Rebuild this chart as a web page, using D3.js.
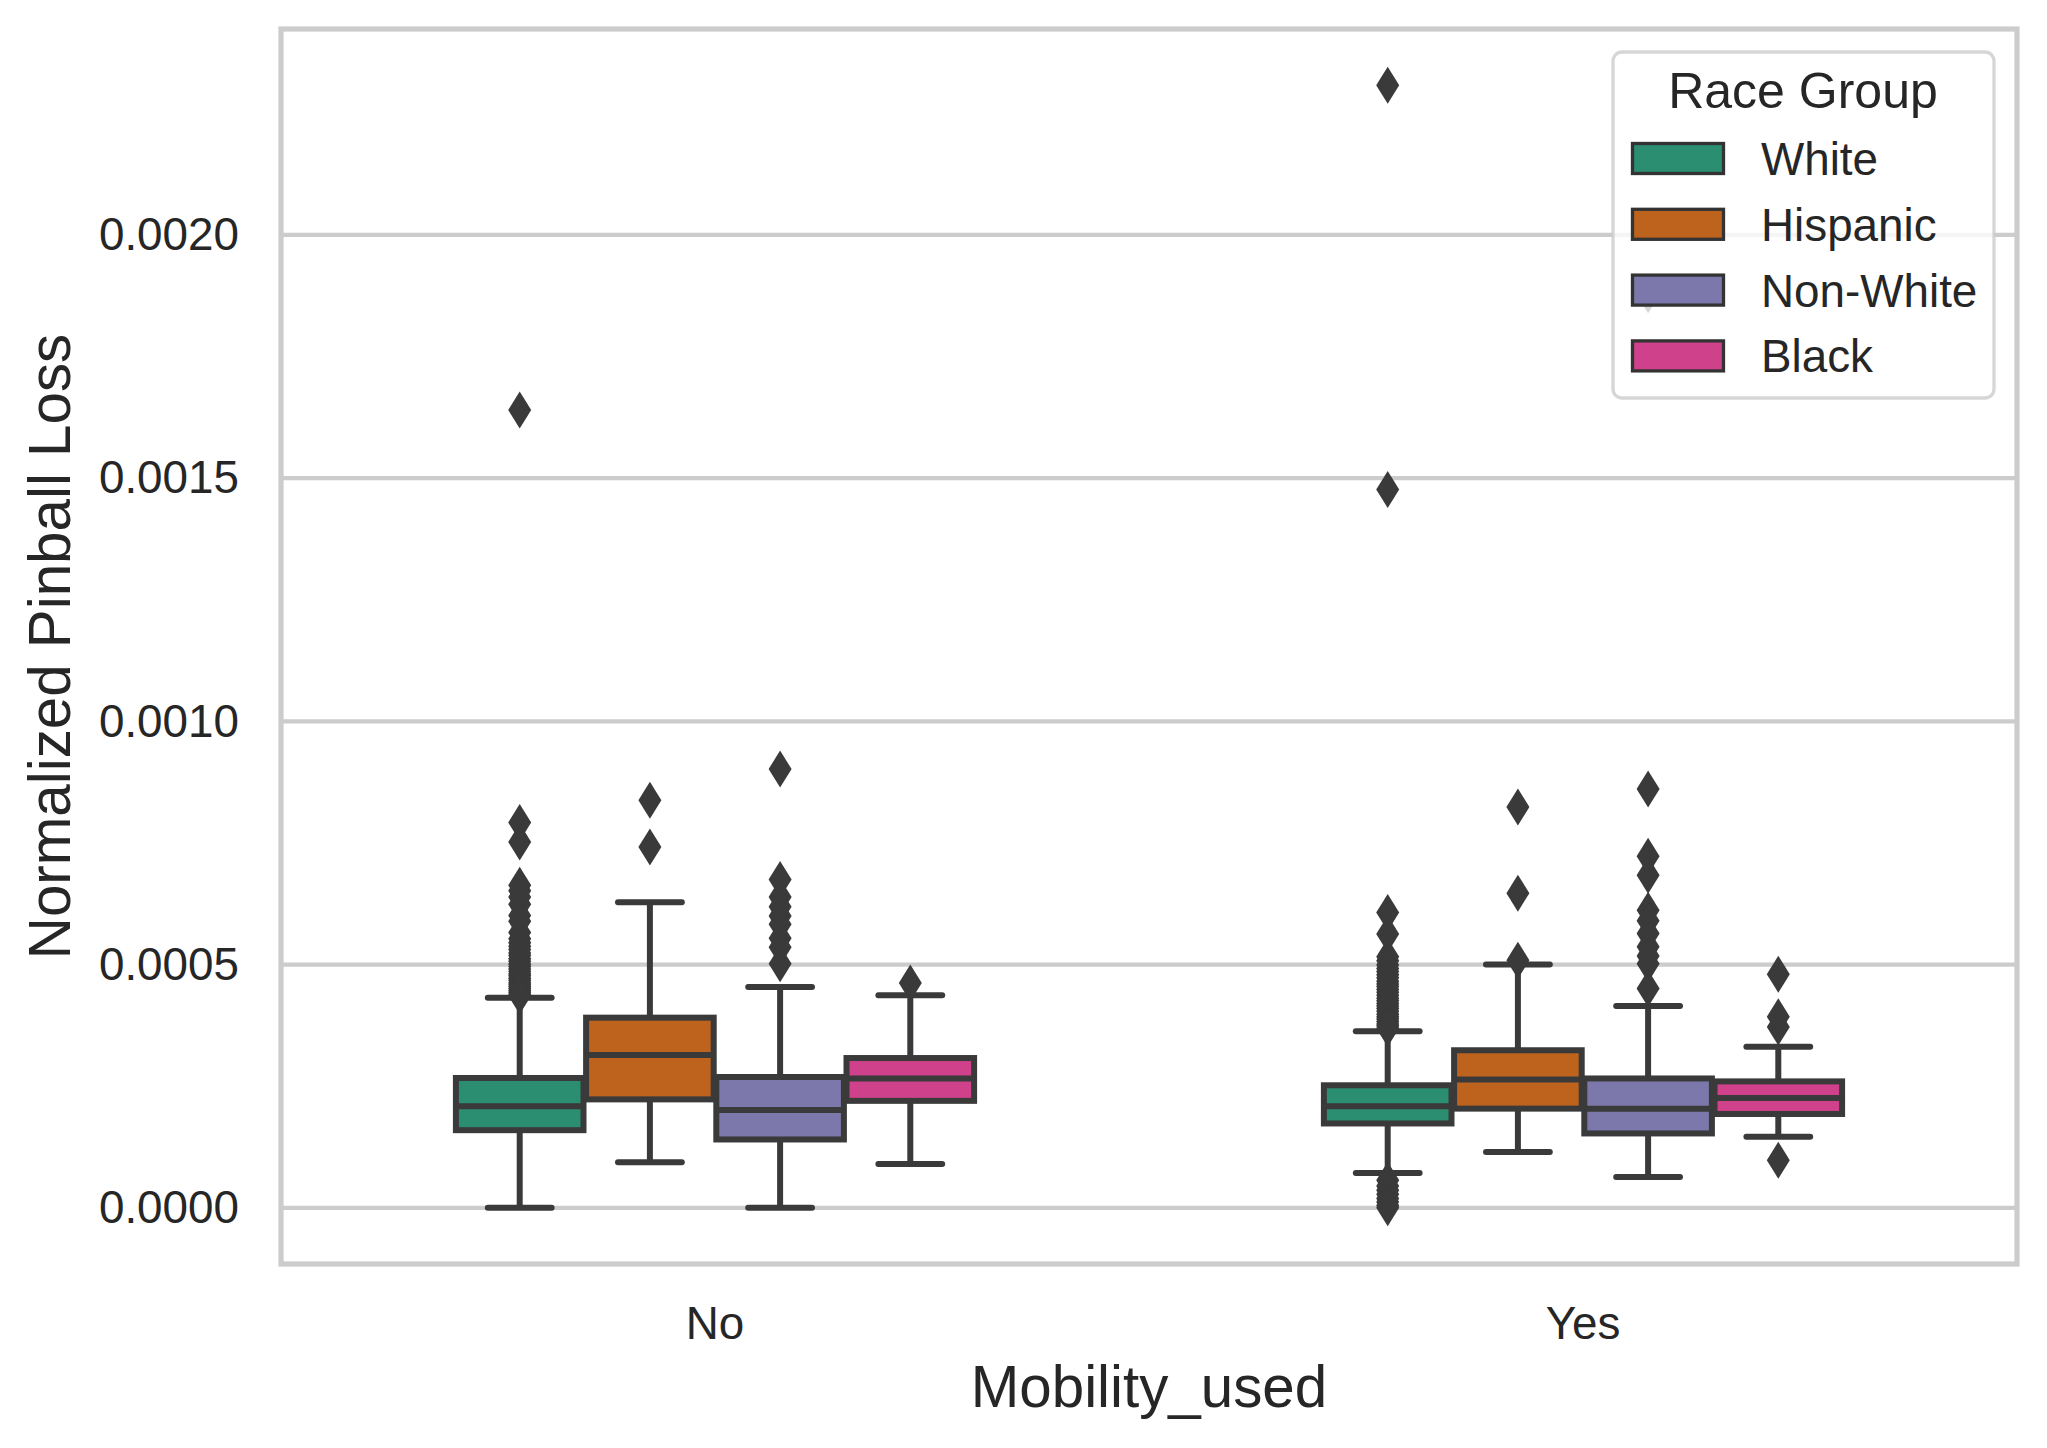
<!DOCTYPE html>
<html>
<head>
<meta charset="utf-8">
<script src="https://cdn.jsdelivr.net/npm/d3@7"></script>
<style>
  html, body { margin: 0; padding: 0; background: #fff; }
  text { font-family: "Liberation Sans", Arial, sans-serif; fill: #262626; }
</style>
</head>
<body>
<svg id="chart" width="2047" height="1448"></svg>
<script>
// categories
const groups = ["No", "Yes"];
const races = ["White", "Hispanic", "Non-White", "Black"];
const yTicks = [0, 0.0005, 0.001, 0.0015, 0.002];

// box stats, one row per group, race order as above
const whiskerLow  = [[0.0,       0.0000939, 0.0,       0.0000904], [0.0000719, 0.000115,  0.0000637, 0.000146]];
const q1          = [[0.0001597, 0.000223,  0.0001406, 0.000220 ], [0.0001735, 0.000204,  0.000153,  0.000193]];
const median      = [[0.000209,  0.000314,  0.000201,  0.000266 ], [0.000209,  0.000264,  0.000204,  0.000226]];
const q3          = [[0.000267,  0.000391,  0.000269,  0.000308 ], [0.000252,  0.000324,  0.000266,  0.000260]];
const whiskerHigh = [[0.000432,  0.000628,  0.000454,  0.000437 ], [0.000363,  0.0005003, 0.000415,  0.000331]];

// fliers
const outliersNo = [
  [0.00164, 0.000792, 0.000752, 0.000663, 0.000652, 0.000639, 0.000624, 0.000601, 0.000589, 0.000566,
   0.000553, 0.000545, 0.000538, 0.000531, 0.000524, 0.000519, 0.000512, 0.000507, 0.000501, 0.000496,
   0.000491, 0.000486, 0.000481, 0.000477, 0.000472, 0.000468, 0.000463, 0.000459, 0.000455, 0.000451,
   0.000447, 0.000443, 0.000439, 0.000436],
  [0.000838, 0.000742],
  [0.000902, 0.000675, 0.000639, 0.000619, 0.0006, 0.000583, 0.000554, 0.000536, 0.000502],
  [0.000462]
];
const outliersYes = [
  [0.002308, 0.001477, 0.000607, 0.000563, 0.000516, 0.000508, 0.000499, 0.000492, 0.000486, 0.000479,
   0.000473, 0.000466, 0.00046, 0.000455, 0.000449, 0.000443, 0.000437, 0.000431, 0.000426, 0.00042,
   0.000415, 0.00041, 0.000404, 0.000398, 0.000393, 0.000388, 0.000383, 0.000378, 0.000374, 0.000369,
   0.000057, 0.000045, 0.000036, 0.000028, 0.000019, 0.000012, 0.000005, 0.0],
  [0.000824, 0.000647, 0.000509],
  [0.001877, 0.000861, 0.000723, 0.000684, 0.000612, 0.00059, 0.000564, 0.000537, 0.000518, 0.000502, 0.000451],
  [0.00048, 0.000393, 0.000372, 0.000098]
];
const outliers = [outliersNo, outliersYes];

const colors = ["#2b8e70", "#be631d", "#7c78ab", "#cf418a"];

const svg = d3.select("#chart");
const margin = {top: 29, right: 30, bottom: 184, left: 281};
const width = 2047, height = 1448;
const lineCol = "#3a3a3a";

// build flat rows for drawing
const boxes = [];
groups.forEach((g, gi) => races.forEach((r, ri) => {
  boxes.push({group: g, race: r, ri,
    lo: whiskerLow[gi][ri], q1: q1[gi][ri], med: median[gi][ri],
    q3: q3[gi][ri], hi: whiskerHigh[gi][ri], fliers: outliers[gi][ri]});
}));

const allVals = boxes.flatMap(b => [b.lo, b.hi, ...b.fliers]);
const [vmin, vmax] = d3.extent(allVals);
const pad = (vmax - vmin) * 0.05;

const x = d3.scaleBand().domain(groups)
  .range([margin.left, width - margin.right]).padding(0);
const bw = x.bandwidth();
const xHue = d3.scaleBand().domain(races).range([-0.3 * bw, 0.3 * bw]);
const boxW = xHue.bandwidth() * 0.98;

const y = d3.scaleLinear().domain([vmin - pad, vmax + pad])
  .range([height - margin.bottom, margin.top]);

// grid
svg.append("g").selectAll("line").data(yTicks).join("line")
  .attr("x1", margin.left).attr("x2", width - margin.right)
  .attr("y1", d => y(d)).attr("y2", d => y(d))
  .attr("stroke", "#cccccc").attr("stroke-width", 4.2);

// y axis labels
const yAxis = svg.append("g")
  .attr("transform", `translate(${margin.left},0)`)
  .call(d3.axisLeft(y).tickValues(yTicks).tickFormat(d3.format(".4f")).tickSize(0).tickPadding(42));
yAxis.select(".domain").remove();
yAxis.selectAll("text").style("font-size", "45.8px").attr("fill", "#262626")
  .style("font-family", "'Liberation Sans', Arial, sans-serif");

// x axis labels
const xAxis = svg.append("g")
  .attr("transform", `translate(0,${height - margin.bottom})`)
  .call(d3.axisBottom(x).tickSize(0).tickPadding(42));
xAxis.select(".domain").remove();
xAxis.selectAll("text").style("font-size", "45.8px").attr("fill", "#262626")
  .style("font-family", "'Liberation Sans', Arial, sans-serif");

// axis titles
svg.append("text")
  .attr("x", (margin.left + width - margin.right) / 2)
  .attr("y", 1407)
  .attr("text-anchor", "middle")
  .style("font-size", "58.3px")
  .text("Mobility_used");

svg.append("text")
  .attr("transform", `translate(70,${(margin.top + height - margin.bottom) / 2}) rotate(-90)`)
  .attr("text-anchor", "middle")
  .style("font-size", "58.3px")
  .text("Normalized Pinball Loss");

// boxes
const bg = svg.append("g").selectAll("g").data(boxes).join("g")
  .attr("transform", d => `translate(${x(d.group) + bw / 2 + xHue(d.race) + xHue.bandwidth() / 2},0)`);

bg.append("line").attr("class", "whisker")
  .attr("y1", d => y(d.q1)).attr("y2", d => y(d.lo))
  .attr("stroke", lineCol).attr("stroke-width", 6);
bg.append("line").attr("class", "whisker")
  .attr("y1", d => y(d.q3)).attr("y2", d => y(d.hi))
  .attr("stroke", lineCol).attr("stroke-width", 6);
bg.selectAll(".cap").data(d => [d.lo, d.hi]).join("line")
  .attr("class", "cap")
  .attr("x1", -boxW / 4).attr("x2", boxW / 4)
  .attr("y1", d => y(d)).attr("y2", d => y(d))
  .attr("stroke", lineCol).attr("stroke-width", 6).attr("stroke-linecap", "round");
bg.append("rect")
  .attr("x", -boxW / 2).attr("width", boxW)
  .attr("y", d => y(d.q3)).attr("height", d => y(d.q1) - y(d.q3))
  .attr("fill", d => colors[d.ri])
  .attr("stroke", lineCol).attr("stroke-width", 6);
bg.append("line")
  .attr("x1", -boxW / 2).attr("x2", boxW / 2)
  .attr("y1", d => y(d.med)).attr("y2", d => y(d.med))
  .attr("stroke", lineCol).attr("stroke-width", 6);

// fliers, thin diamonds
const diamond = "M0,-18.5L11.5,0L0,18.5L-11.5,0Z";
bg.selectAll(".flier").data(d => d.fliers).join("path")
  .attr("class", "flier")
  .attr("d", diamond)
  .attr("transform", d => `translate(0,${y(d)})`)
  .attr("fill", lineCol);

// spines
svg.append("rect")
  .attr("x", margin.left).attr("y", margin.top)
  .attr("width", width - margin.right - margin.left)
  .attr("height", height - margin.bottom - margin.top)
  .attr("fill", "none").attr("stroke", "#cccccc").attr("stroke-width", 5.2);

// legend
const legend = svg.append("g").attr("transform", "translate(1613,52)");
legend.append("rect")
  .attr("width", 381).attr("height", 346).attr("rx", 9)
  .attr("fill", "#fff").attr("fill-opacity", 0.8)
  .attr("stroke", "#cccccc").attr("stroke-opacity", 0.8).attr("stroke-width", 3.3);
legend.append("text")
  .attr("x", 190).attr("y", 56)
  .attr("text-anchor", "middle")
  .style("font-size", "50px")
  .text("Race Group");
const items = legend.selectAll(".item").data(races).join("g")
  .attr("class", "item")
  .attr("transform", (d, i) => `translate(0,${90 + i * 65.8})`);
items.append("rect")
  .attr("x", 19.5).attr("y", 1.5).attr("width", 91).attr("height", 30)
  .attr("fill", (d, i) => colors[i])
  .attr("stroke", "#333").attr("stroke-width", 3.3);
items.append("text")
  .attr("x", 148).attr("y", 33)
  .style("font-size", "45.8px")
  .text(d => d);
</script>
</body>
</html>
